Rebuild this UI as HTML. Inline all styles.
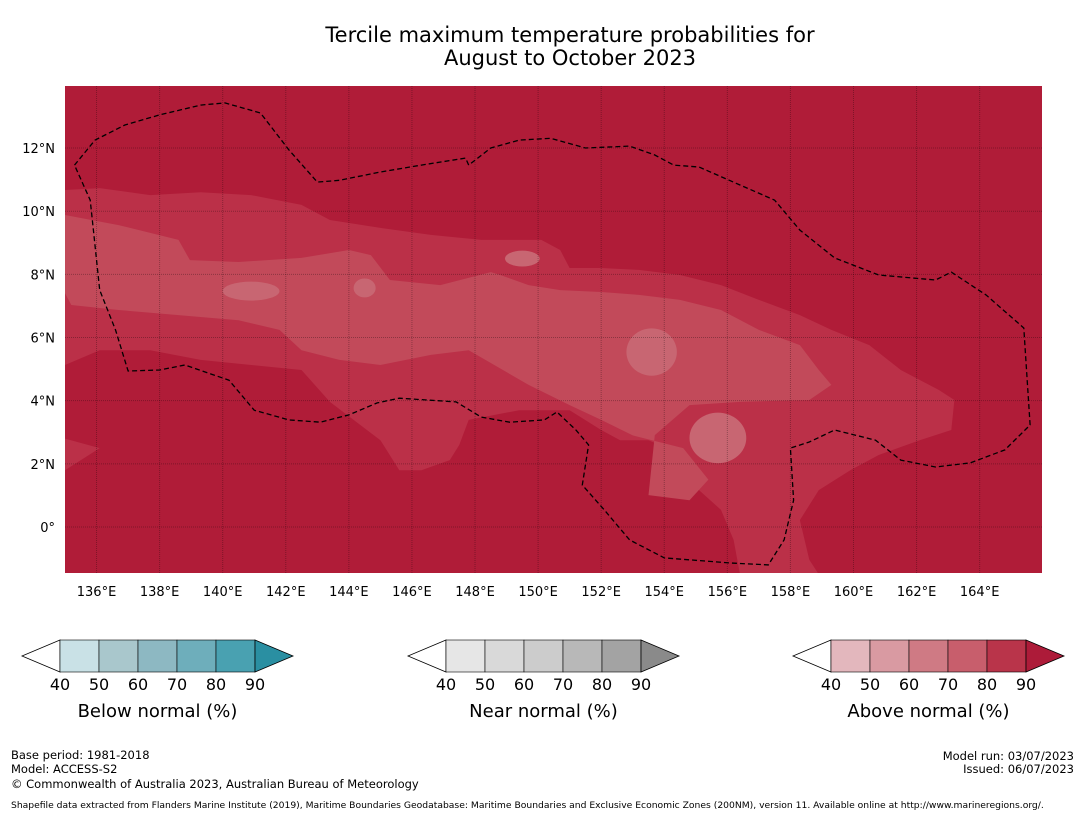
<!DOCTYPE html>
<html><head><meta charset="utf-8">
<style>
body{margin:0;background:#fff;font-family:"DejaVu Sans","Liberation Sans",sans-serif;}
#wrap{position:relative;width:1085px;height:816px;overflow:hidden;background:#fff;}
svg{position:absolute;left:0;top:0;}
text{font-family:"DejaVu Sans","Liberation Sans",sans-serif;fill:#000;}
</style></head>
<body>
<div id="wrap">
<svg id="svg" width="1085" height="816">
<text x="570" y="42" font-size="21" text-anchor="middle">Tercile maximum temperature probabilities for</text>
<text x="570" y="65" font-size="21" text-anchor="middle">August to October 2023</text>
<g id="map"></g>
<g id="bars"></g>
<text x="11" y="759" font-size="11.5">Base period: 1981-2018</text>
<text x="11" y="773" font-size="11.5">Model: ACCESS-S2</text>
<text x="11" y="788" font-size="11.5">© Commonwealth of Australia 2023, Australian Bureau of Meteorology</text>
<text x="1074" y="760" font-size="11.5" text-anchor="end">Model run: 03/07/2023</text>
<text x="1074" y="773" font-size="11.5" text-anchor="end">Issued: 06/07/2023</text>
<text x="11" y="808" font-size="9.2">Shapefile data extracted from Flanders Marine Institute (2019), Maritime Boundaries Geodatabase: Maritime Boundaries and Exclusive Economic Zones (200NM), version 11. Available online at http://www.marineregions.org/.</text>
</svg>
</div>
<script>
// ---- data ----
const lonTicks = [136,138,140,142,144,146,148,150,152,154,156,158,160,162,164];
const latTicks = [0,2,4,6,8,10,12];
const lonLabels = ["136°E","138°E","140°E","142°E","144°E","146°E","148°E","150°E","152°E","154°E","156°E","158°E","160°E","162°E","164°E"];
const latLabels = ["0°","2°N","4°N","6°N","8°N","10°N","12°N"];
const band80 = [[135,10.67],[136.1,10.73],[137.7,10.51],[139.3,10.6],[140.9,10.51],[142.5,10.2],[143.4,9.72],[145.0,9.47],[146.6,9.25],[148.2,9.09],[150.1,9.09],[150.7,8.77],[151.0,8.2],[152.0,8.2],[153.2,8.14],[154.5,7.98],[155.8,7.66],[157.0,7.19],[158.3,6.71],[159.3,6.24],[160.5,5.76],[161.5,4.97],[162.7,4.34],[163.2,4.02],[163.1,3.07],[162.1,2.75],[160.8,2.28],[159.9,1.8],[158.9,1.17],[158.3,0.22],[158.6,-1.04],[158.9,-1.5],[156.4,-1.5],[156.2,-0.41],[155.8,0.54],[155.1,1.17],[154.8,2.12],[154.2,2.44],[153.5,2.75],[152.6,2.75],[152.0,3.07],[151.0,3.7],[149.4,3.7],[147.8,3.39],[147.5,2.6],[147.2,2.12],[146.3,1.8],[145.6,1.8],[145.0,2.75],[143.4,3.96],[142.5,4.97],[140.9,5.13],[139.3,5.29],[137.7,5.6],[136.1,5.6],[135,5.13]];
const band80b = [[135,2.8],[136.1,2.5],[135,1.8]];
const band70 = [[135,9.88],[136.7,9.56],[138.6,9.09],[138.96,8.45],[140.5,8.39],[142.5,8.52],[144.0,8.77],[144.7,8.61],[145.3,7.82],[146.9,7.66],[148.5,8.07],[148.8,7.98],[149.7,7.66],[150.7,7.5],[152.0,7.44],[153.2,7.35],[154.5,7.19],[155.8,6.87],[157.0,6.24],[158.3,5.76],[158.9,4.97],[159.3,4.5],[158.6,4.02],[156.4,3.96],[154.8,3.86],[153.7,2.91],[153.5,1.01],[154.8,0.85],[155.4,1.5],[154.6,2.5],[153.0,2.9],[152.0,3.39],[151.0,3.86],[149.7,4.5],[147.8,5.6],[146.6,5.45],[145.0,5.13],[143.7,5.29],[142.5,5.6],[141.8,6.24],[140.5,6.55],[138.6,6.71],[136.7,6.87],[135.2,7.03],[135,7.4]];
const blobs60 = [[140.9,7.47,0.9,0.3],[153.6,5.54,0.8,0.75],[155.7,2.82,0.9,0.8],[144.5,7.57,0.35,0.3],[149.5,8.5,0.55,0.25]];
const eez = [[135.3,11.46],[135.95,12.25],[136.9,12.73],[138.0,13.05],[139.3,13.36],[140.07,13.43],[141.2,13.11],[142.1,11.94],[143.0,10.92],[143.7,10.98],[145.0,11.24],[146.3,11.46],[147.7,11.68],[147.8,11.46],[148.5,12.0],[149.4,12.25],[150.4,12.31],[151.5,12.0],[152.9,12.06],[153.7,11.78],[154.3,11.46],[155.1,11.4],[156.4,10.83],[157.5,10.35],[158.3,9.4],[159.4,8.52],[160.8,7.98],[162.6,7.82],[163.1,8.07],[164.2,7.35],[165.4,6.3],[165.6,3.23],[164.8,2.44],[163.7,2.03],[162.6,1.9],[161.5,2.12],[160.7,2.75],[159.4,3.07],[158.6,2.69],[158.0,2.5],[158.1,0.85],[157.8,-0.41],[157.3,-1.2],[156.1,-1.14],[154.0,-0.98],[152.9,-0.41],[152.1,0.54],[151.4,1.33],[151.6,2.6],[151.2,3.07],[150.6,3.64],[150.2,3.39],[149.1,3.32],[148.2,3.48],[147.4,3.96],[145.6,4.08],[144.9,3.93],[144.0,3.55],[143.1,3.32],[142.1,3.39],[141.0,3.7],[140.2,4.65],[138.8,5.13],[138.0,4.97],[137.0,4.94],[136.6,6.24],[136.1,7.5],[135.9,9.4],[135.8,10.35],[135.3,11.46]];
const barValues = [40,50,60,70,80,90];
const barTitles = ["Below normal (%)","Near normal (%)","Above normal (%)"];
const barColors = [["#c9e1e6","#a9c7cc","#8db8c2","#6eaebb","#49a1b1","#2a8fa2"],["#e6e6e6","#d9d9d9","#cccccc","#b8b8b8","#a3a3a3","#8a8a8a"],["#e3b7bd","#d99aa2","#cf7a84","#c85e6c","#b9344a","#ad1b39"]];
// ---- axes ----
const X0=65,X1=1042,Y0=86,Y1=573;
const sx = lon => 65 + (lon-135)*31.54;
const sy = lat => 527 - lat*31.58;
const NS="http://www.w3.org/2000/svg";
const map=document.getElementById('map');
function mk(tag,attrs,parent){const e=document.createElementNS(NS,tag);for(const k in attrs)e.setAttribute(k,attrs[k]);parent.appendChild(e);return e;}
const defs=mk('defs',{},map);
const cp=mk('clipPath',{id:'clip'},defs);
mk('rect',{x:X0,y:Y0,width:X1-X0,height:Y1-Y0},cp);
const g=mk('g',{'clip-path':'url(#clip)'},map);
let bg=mk('rect',{x:X0,y:Y0,width:X1-X0,height:Y1-Y0,fill:'#b01c38'},g);


const pts = arr => arr.map(p=>sx(p[0]).toFixed(1)+','+sy(p[1]).toFixed(1)).join(' ');
let p1=mk('polygon',{points:pts(band80),fill:'#bb3048'},g);


let p1b=mk('polygon',{points:pts(band80b),fill:'#bb3048'},g);


let p2=mk('polygon',{points:pts(band70),fill:'#c24a5a'},g);


blobs60.forEach(b=>{
  const e=mk('ellipse',{cx:sx(b[0]),cy:sy(b[1]),rx:b[2]*31.54,ry:b[3]*31.58,fill:'#c86672'},g);
  
  
});
lonTicks.forEach((t,i)=>{
  const l=mk('line',{x1:sx(t),x2:sx(t),y1:Y0,y2:Y1,stroke:'rgba(0,0,0,0.28)','stroke-width':1,'stroke-dasharray':'1,1'},g);
  
  
  const tx=mk('text',{x:sx(t),y:596,'font-size':13,'text-anchor':'middle'},map);
  tx.textContent=lonLabels[i];
  
  
});
latTicks.forEach((t,i)=>{
  const l=mk('line',{x1:X0,x2:X1,y1:sy(t),y2:sy(t),stroke:'rgba(0,0,0,0.28)','stroke-width':1,'stroke-dasharray':'1,1'},g);
  
  
  const tx=mk('text',{x:55,y:sy(t)+5,'font-size':13,'text-anchor':'end'},map);
  tx.textContent=latLabels[i];
  
  
});
let ez=mk('polyline',{points:pts(eez),fill:'none',stroke:'#000','stroke-width':1.3,'stroke-dasharray':'5,3'},g);


// colorbars
const bars=document.getElementById('bars');
const barLeft=[60,446,831], segW=39, by=640, bh=32;
barTitles.forEach((title,k)=>{
  const L=barLeft[k], R=L+5*segW, cy=by+bh/2;
  const bg2=mk('g',{},bars);
  
  
  mk('polygon',{points:`${L},${by} ${L-38},${cy} ${L},${by+bh}`,fill:'#fff',stroke:'#000','stroke-width':0.8},bg2);
  for(let i=0;i<5;i++){
    mk('rect',{x:L+i*segW,y:by,width:segW,height:bh,fill:barColors[k][i],stroke:'#000','stroke-width':0.6},bg2);
  }
  mk('polygon',{points:`${R},${by} ${R+38},${cy} ${R},${by+bh}`,fill:barColors[k][5],stroke:'#000','stroke-width':0.8},bg2);
  barValues.forEach((v,i)=>{
    const t=mk('text',{x:L+i*segW,y:690,'font-size':16,'text-anchor':'middle'},bg2);
    t.textContent=v;
    
    
  });
  const tt=mk('text',{x:(L+R)/2,y:717,'font-size':18,'text-anchor':'middle'},bg2);
  tt.textContent=title;
  
  
});
</script>
</body></html>
